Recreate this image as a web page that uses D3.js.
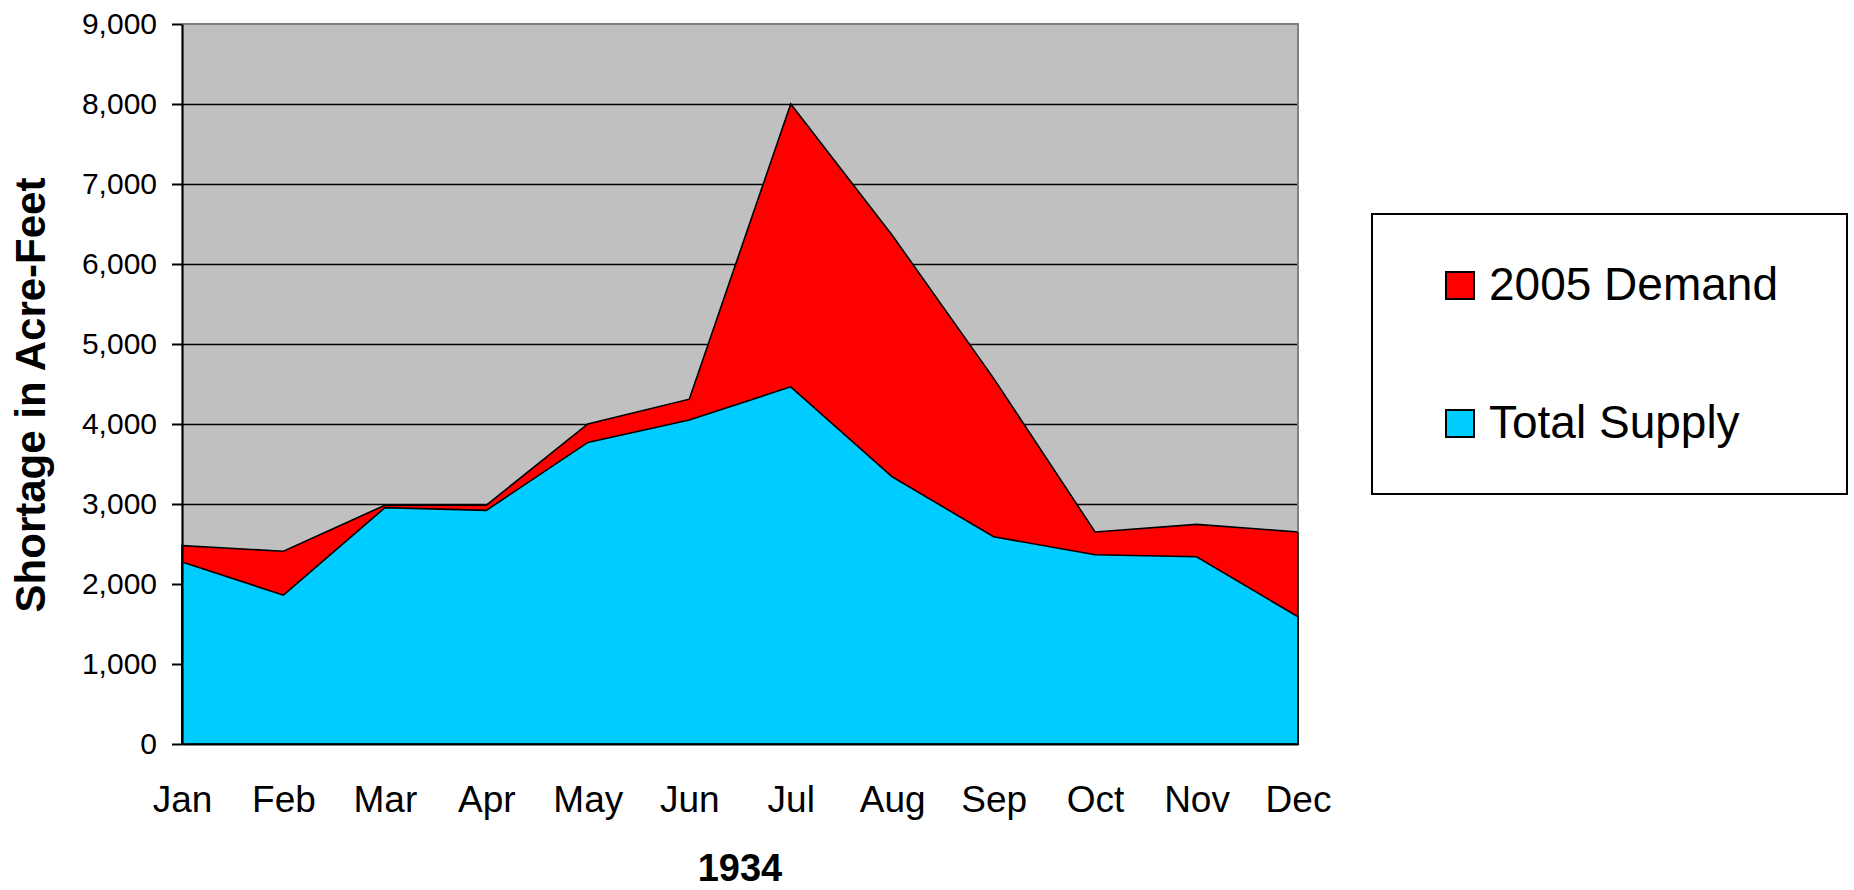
<!DOCTYPE html>
<html>
<head>
<meta charset="utf-8">
<script src="https://cdn.jsdelivr.net/npm/d3@7"></script>
<style>
  body { margin: 0; background: #fff; }
  svg { display: block; font-family: "Liberation Sans", Arial, sans-serif; }
</style>
</head>
<body>
<svg id="chart" width="1854" height="890"></svg>
<script>
// data (acre-feet, 1934)
var months = ["Jan", "Feb", "Mar", "Apr", "May", "Jun", "Jul", "Aug", "Sep", "Oct", "Nov", "Dec"];
var demand2005 = [2480, 2410, 2985, 2985, 4000, 4310, 8000, 6360, 4570, 2650, 2745, 2650];
var totalSupply = [2275, 1860, 2955, 2920, 3770, 4050, 4465, 3340, 2590, 2365, 2340, 1590];
var yTicks = [0, 1000, 2000, 3000, 4000, 5000, 6000, 7000, 8000, 9000];
var seriesNames = ["2005 Demand", "Total Supply"];
var seriesColors = ["#ff0000", "#00ccff"];

var margin = {top: 24, right: 556, bottom: 146, left: 182},
    width = 1854 - margin.left - margin.right,
    height = 890 - margin.top - margin.bottom;

var svg = d3.select("#chart");
var g = svg.append("g")
    .attr("transform", "translate(" + margin.left + "," + margin.top + ")");

var x = d3.scalePoint().domain(months).range([0, width]),
    y = d3.scaleLinear().domain([0, 9000]).range([height, 0]);

// plot background
g.append("rect")
  .attr("width", width)
  .attr("height", height)
  .style("fill", "#c0c0c0");

// gridlines
g.append("g")
  .attr("class", "grid")
  .call(d3.axisLeft(y).tickValues(yTicks.filter(function(d){ return d > 0 && d < 9000; }))
    .tickSize(-width).tickFormat(""))
  .call(function(s){
    s.select(".domain").remove();
    s.selectAll("line").style("stroke", "#000").style("stroke-width", 1.6);
  });

var area = function(vals){
  return d3.area()
    .x(function(d, i){ return x(months[i]); })
    .y0(y(0))
    .y1(function(d){ return y(d); })(vals);
};

// demand behind, supply in front
[demand2005, totalSupply].forEach(function(vals, i){
  g.append("path")
    .attr("d", area(vals))
    .style("fill", seriesColors[i])
    .style("stroke", "#000")
    .style("stroke-width", 1.6)
    .style("stroke-linejoin", "miter");
});

// top and right border of plot
g.append("path")
  .attr("d", "M0,0H" + width + "V" + y(demand2005[demand2005.length - 1]))
  .style("fill", "none")
  .style("stroke", "#808080")
  .style("stroke-width", 2);

// y axis
g.append("g")
  .attr("class", "yAxis")
  .call(d3.axisLeft(y).tickValues(yTicks).tickSize(10).tickSizeOuter(0).tickPadding(15)
    .tickFormat(d3.format(",")))
  .call(function(s){
    s.select(".domain").style("stroke", "#000").style("stroke-width", 2.2);
    s.selectAll("line").style("stroke", "#000").style("stroke-width", 2);
    s.selectAll("text").style("font-family", "Liberation Sans, Arial").style("font-size", "30px").style("fill", "#000");
  });

// x axis
g.append("g")
  .attr("class", "xAxis")
  .attr("transform", "translate(0," + height + ")")
  .call(d3.axisBottom(x).tickSize(0).tickSizeOuter(0).tickPadding(42))
  .call(function(s){
    s.select(".domain").style("stroke", "#000").style("stroke-width", 2.2);
    s.selectAll("text").style("font-family", "Liberation Sans, Arial").style("font-size", "37px").style("fill", "#000");
  });

// axis titles
svg.append("text")
  .attr("transform", "translate(45,395) rotate(-90)")
  .style("text-anchor", "middle")
  .style("font-weight", "bold")
  .style("font-size", "42px")
  .text("Shortage in Acre-Feet");

svg.append("text")
  .attr("x", margin.left + width / 2)
  .attr("y", 881)
  .style("text-anchor", "middle")
  .style("font-weight", "bold")
  .style("font-size", "38px")
  .text("1934");

// legend
var legend = svg.append("g").attr("transform", "translate(1372,214)");
legend.append("rect")
  .attr("width", 475)
  .attr("height", 280)
  .style("fill", "#fff")
  .style("stroke", "#000")
  .style("stroke-width", 2);

seriesNames.forEach(function(name, i){
  var row = legend.append("g").attr("transform", "translate(0," + (i * 138) + ")");
  row.append("rect")
    .attr("x", 74)
    .attr("y", 58)
    .attr("width", 28)
    .attr("height", 27)
    .style("fill", seriesColors[i])
    .style("stroke", "#000")
    .style("stroke-width", 2);
  row.append("text")
    .attr("x", 117)
    .attr("y", 86)
    .style("font-size", "46px")
    .text(name);
});
</script>
</body>
</html>
